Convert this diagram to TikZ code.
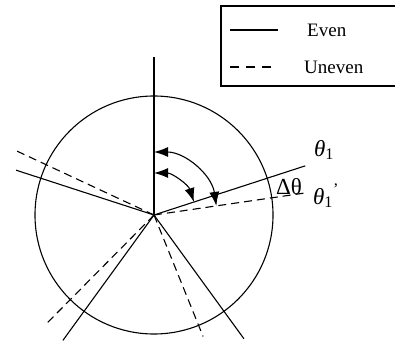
\documentclass[tikz,border=0pt]{standalone}
\usepackage{fontspec}
\setmainfont{Liberation Serif}
\usetikzlibrary{arrows.meta, calc}

\begin{document}
\begin{tikzpicture}[x=1pt, y=1pt,
    even/.style={line width=1.1pt},
    uneven/.style={line width=1.1pt, dash pattern=on 8pt off 5pt},
    turn/.style={line width=1.1pt, {Latex[length=14pt,width=10pt]}-{Latex[length=14pt,width=10pt]}},
    lbl/.style={font=\fontsize{19}{22}\selectfont, inner sep=0pt},
    ang/.style={font=\fontsize{23}{26}\selectfont, inner sep=0pt}]
  \useasboundingbox (0,0) rectangle (395,340);
  \coordinate (O) at (154,125);
  \draw[even] (O) circle[radius=119];
  % even and uneven rays
  \foreach \a/\r/\n in {90/158/e0, 18/159/e1, 162/145/e2, 234/155/e3, 306/153/e4} {
    \coordinate (\n) at ($(O)+(\a:\r)$);
    \draw[even] (O) -- (\n);
  }
  \foreach \a/\r/\n in {8.3/153/u1, 155/152/u2, 225.3/155/u3, 292/131/u4} {
    \coordinate (\n) at ($(O)+(\a:\r)$);
    \draw[uneven] (O) -- (\n);
  }
  % angle arrows
  \coordinate (a1) at ($(O)+(90:42)$);
  \coordinate (a2) at ($(O)+(90:63)$);
  \draw[turn] (a1) arc[start angle=90, end angle=18, radius=42];
  \draw[turn] (a2) arc[start angle=90, end angle=8.3, radius=63];
  \node[ang] (t1) at (324,190) {\textit{θ}\textsubscript{1}};
  \node[ang] (t1p) at (326,144) {\textit{θ}\textsubscript{1}\textsuperscript{'}};
  \node[ang] (dt) at (289,153) {Δθ};
  % legend
  \draw[line width=1.3pt] (221,334) rectangle (410,254);
  \coordinate (l1) at (230,310);
  \coordinate (l2) at (278,310);
  \coordinate (l3) at (230,273);
  \coordinate (l4) at (275,273);
  \draw[even] (l1) -- (l2);
  \draw[line width=1.1pt, dash pattern=on 9pt off 7pt] (l3) -- (l4);
  \node[lbl, anchor=west] (ev) at (307,310) {Even};
  \node[lbl, anchor=west] (un) at (304,273) {Uneven};
\end{tikzpicture}
\end{document}
